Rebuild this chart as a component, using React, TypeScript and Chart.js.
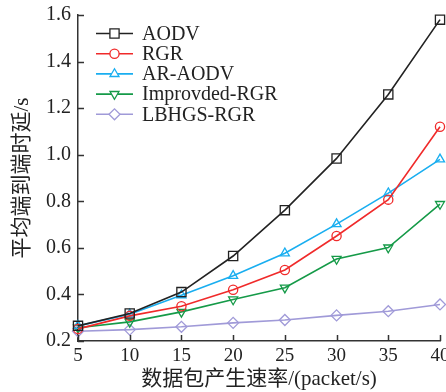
import React, { useEffect, useRef } from "react";
import { Chart, registerables } from "chart.js";
import { drawPoint } from "chart.js/helpers";

Chart.register(...registerables);

const rates = [5, 10, 15, 20, 25, 30, 35, 40];
const aodv = [0.265, 0.318, 0.41, 0.565, 0.762, 0.984, 1.259, 1.58];
const rgr = [0.252, 0.308, 0.349, 0.42, 0.505, 0.651, 0.807, 1.12];
const arAodv = [0.265, 0.315, 0.397, 0.48, 0.577, 0.702, 0.835, 0.98];
const improvedRgr = [0.257, 0.282, 0.325, 0.378, 0.429, 0.552, 0.601, 0.788];
const lbhgsRgr = [0.242, 0.249, 0.261, 0.278, 0.29, 0.31, 0.328, 0.357];

const seriesNames = ["AODV", "RGR", "AR-AODV", "Improvded-RGR", "LBHGS-RGR"];
const xTicks = [5, 10, 15, 20, 25, 30, 35, 40];
const yTicks = [0.2, 0.4, 0.6, 0.8, 1.0, 1.2, 1.4, 1.6];
const yTitle = "平均端到端时延/s";
const xTitle = "数据包产生速率/(packet/s)";

const FONT = "'Liberation Serif', 'Noto Sans CJK SC', serif";
const AXIS = "#333333";

const styles = [
  { color: "#222222", point: "rect", radius: 6.5, rotation: 0 },
  { color: "#f02a2a", point: "circle", radius: 4.6, rotation: 0 },
  { color: "#19aef0", point: "triangle", radius: 5.2, rotation: 0 },
  { color: "#159a48", point: "triangle", radius: 5.2, rotation: 180 },
  { color: "#a09ad8", point: "rectRot", radius: 5.5, rotation: 0 },
];

const tickPlugin = {
  id: "inwardTicks",
  afterDatasetsDraw(chart: any) {
    const { ctx, chartArea, scales } = chart;
    ctx.save();
    ctx.strokeStyle = AXIS;
    ctx.lineWidth = 1.5;
    ctx.beginPath();
    xTicks.forEach((v) => {
      const px = Math.round(scales.x.getPixelForValue(v)) + 0.5;
      ctx.moveTo(px, chartArea.bottom);
      ctx.lineTo(px, chartArea.bottom - 6);
    });
    yTicks.forEach((v) => {
      const py = Math.round(scales.y.getPixelForValue(v)) + 0.5;
      ctx.moveTo(chartArea.left, py);
      ctx.lineTo(chartArea.left + 6, py);
    });
    ctx.stroke();
    ctx.restore();
  },
};

const legendPlugin = {
  id: "lineLegend",
  afterDraw(chart: any) {
    const { ctx, chartArea } = chart;
    ctx.save();
    const x0 = chartArea.left + 18;
    const x1 = chartArea.left + 55;
    const tx = chartArea.left + 64;
    chart.data.datasets.forEach((ds: any, i: number) => {
      const y = chartArea.top + 18.5 + i * 20.2;
      ctx.strokeStyle = ds.borderColor;
      ctx.lineWidth = 1.6;
      ctx.beginPath();
      ctx.moveTo(x0, y);
      ctx.lineTo(x1, y);
      ctx.stroke();
      ctx.fillStyle = "#ffffff";
      ctx.strokeStyle = ds.borderColor;
      ctx.lineWidth = 1.3;
      drawPoint(ctx, {
        pointStyle: ds.pointStyle,
        radius: ds.pointRadius,
        rotation: ds.pointRotation,
        borderWidth: 1.3,
      }, (x0 + x1) / 2, y);
      ctx.fillStyle = "#222222";
      ctx.font = `20px ${FONT}`;
      ctx.textAlign = "left";
      ctx.textBaseline = "middle";
      ctx.fillText(ds.label, tx, y + 1);
    });
    ctx.restore();
  },
};

export default function App() {
  const ref = useRef<HTMLCanvasElement | null>(null);

  useEffect(() => {
    document.body.style.margin = "0";
    const all = [aodv, rgr, arAodv, improvedRgr, lbhgsRgr];
    const chart = new Chart(ref.current as HTMLCanvasElement, {
      type: "line",
      data: {
        datasets: all.map((vals, i) => ({
          label: seriesNames[i],
          data: rates.map((r, j) => ({ x: r, y: vals[j] })),
          borderColor: styles[i].color,
          backgroundColor: "rgba(255,255,255,0)",
          borderWidth: 1.6,
          pointStyle: styles[i].point as any,
          pointRadius: styles[i].radius,
          pointRotation: styles[i].rotation,
          pointBorderColor: styles[i].color,
          pointBackgroundColor: "rgba(255,255,255,0)",
          pointBorderWidth: 1.3,
          tension: 0,
          clip: false as any,
        })),
      },
      options: {
        animation: false,
        responsive: false,
        maintainAspectRatio: false,
        layout: { padding: { top: 15, right: 12, left: 0, bottom: 0 } },
        plugins: {
          legend: { display: false },
          tooltip: { enabled: false },
        },
        scales: {
          x: {
            type: "linear",
            min: 5,
            max: 40,
            afterBuildTicks: (s: any) => {
              s.ticks = xTicks.map((v) => ({ value: v }));
            },
            afterFit: (s: any) => {
              s.height = 51;
              s.paddingLeft = 0;
              s.paddingRight = 0;
            },
            grid: { display: false, drawTicks: false },
            border: { display: true, color: AXIS, width: 1.5 },
            ticks: {
              color: "#222222",
              font: { family: FONT, size: 19 },
              padding: 4,
              maxRotation: 0,
              callback: (v: any) => String(v),
            },
            title: {
              display: true,
              text: xTitle,
              color: "#222222",
              font: { family: FONT, size: 21 },
              padding: { top: 0, bottom: 0 },
            },
          },
          y: {
            type: "linear",
            min: 0.2,
            max: 1.6,
            afterBuildTicks: (s: any) => {
              s.ticks = yTicks.map((v) => ({ value: v }));
            },
            afterFit: (s: any) => {
              s.width = 78;
              s.paddingTop = 0;
              s.paddingBottom = 0;
            },
            grid: { display: false, drawTicks: false },
            border: { display: true, color: AXIS, width: 1.5 },
            ticks: {
              color: "#222222",
              font: { family: FONT, size: 20 },
              padding: 7,
              callback: (v: any) => Number(v).toFixed(1),
            },
            title: {
              display: true,
              text: yTitle,
              color: "#222222",
              font: { family: FONT, size: 21 },
              padding: { top: 10, bottom: 0 },
            },
          },
        },
      },
      plugins: [tickPlugin, legendPlugin],
    });
    return () => chart.destroy();
  }, []);

  return (
    <div style={{ position: "absolute", left: 0, top: 0, width: 446, height: 392, overflow: "hidden", background: "#fff" }}>
      <canvas ref={ref} width={452} height={392} style={{ width: 452, height: 392, display: "block" }} />
    </div>
  );
}
